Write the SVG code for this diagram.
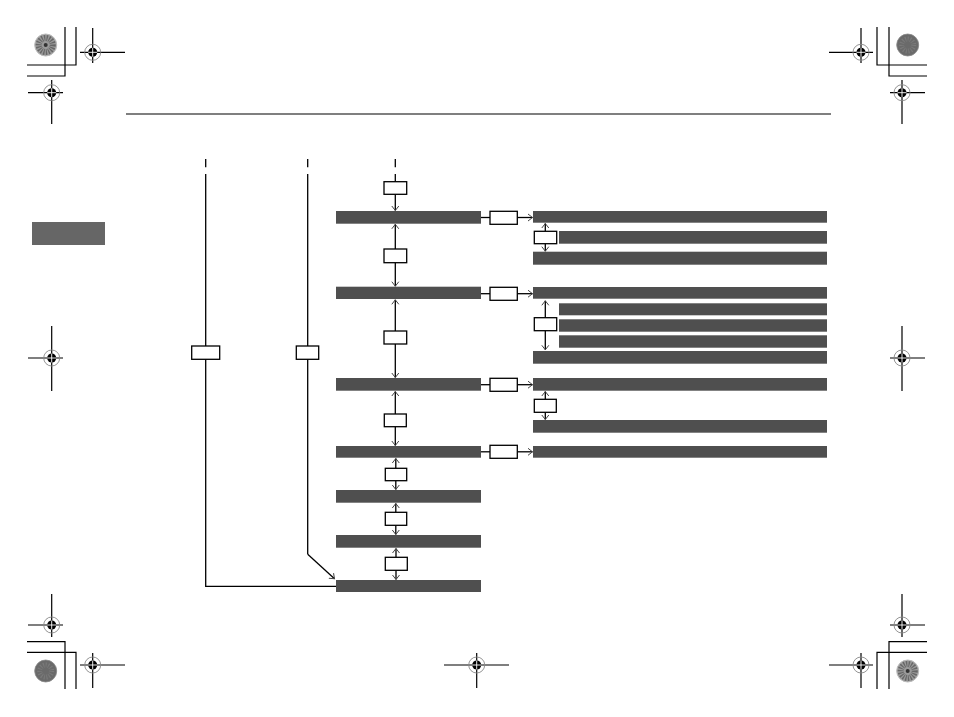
<svg xmlns="http://www.w3.org/2000/svg" width="954" height="717" viewBox="0 0 954 717">
<style>
.ln{stroke:#000;stroke-width:1.3;fill:none}
.thin{stroke:#000;stroke-width:1.2;fill:none}
.bar{fill:#4f4f4f}
.box{fill:#fff;stroke:#000;stroke-width:1.3}
.arr{stroke:#000;stroke-width:1.3;fill:none;marker-end:url(#ah)}
.ring{fill:none;stroke:#888;stroke-width:0.9}
.dot{fill:#000}
.wx{stroke:#fff;stroke-width:0.9}
</style>
<defs>
<marker id="ah" markerUnits="userSpaceOnUse" markerWidth="8" markerHeight="9" refX="5" refY="4.5" orient="auto" viewBox="0 0 8 9">
<path d="M0.5,1 L5,4.5 L0.5,8" fill="none" stroke="#444" stroke-width="1"/>
</marker>
<g id="reg">
<circle class="ring" cx="0" cy="0" r="8"/>
<circle class="dot" cx="0" cy="0" r="4.5"/>
<line class="wx" x1="-4.5" y1="0" x2="4.5" y2="0"/>
<line class="wx" x1="0" y1="-4.5" x2="0" y2="4.5"/>
</g>
<g id="spiky">
<circle cx="0" cy="0" r="11" fill="#9a9a9a" stroke="#bbb" stroke-width="1"/>
<circle cx="0" cy="0" r="7" fill="none" stroke="#666" stroke-width="6" stroke-dasharray="1.2 1.2"/>
<circle cx="0" cy="0" r="2" fill="#333"/>
</g>
<g id="dark">
<circle cx="0" cy="0" r="11" fill="#6a6a6a" stroke="#888" stroke-width="0.8"/>
<circle cx="0" cy="0" r="6" fill="none" stroke="#7a7a7a" stroke-width="5" stroke-dasharray="1 1.5"/>
</g>
</defs>

<g id="print-marks">
<!-- corners -->
<path class="thin" d="M65,27 V76 H27 M76,27 V65 H27"/>
<path class="thin" d="M889,27 V76 H927 M877,27 V65 H927"/>
<path class="thin" d="M65,689 V641.7 H27 M76,689 V652.3 H27"/>
<path class="thin" d="M889,689 V641.7 H927 M877,689 V652.3 H927"/>
<use href="#spiky" x="45.7" y="45"/>
<use href="#dark" x="907.7" y="45"/>
<use href="#dark" x="45.7" y="671"/>
<use href="#spiky" x="907.7" y="671"/>
<!-- reg crosshairs -->
<path class="thin" d="M80,52.3 H125 M92.7,28 V63"/>
<use href="#reg" x="92.7" y="52.3"/>
<path class="thin" d="M28,92.7 H63 M51.7,80 V124"/>
<use href="#reg" x="51.7" y="92.7"/>
<path class="thin" d="M829,52.3 H873 M861,28 V63"/>
<use href="#reg" x="861" y="52.3"/>
<path class="thin" d="M890,92.7 H925 M902,80 V124"/>
<use href="#reg" x="902" y="92.7"/>
<path class="thin" d="M28,358 H63 M51.7,326 V391"/>
<use href="#reg" x="51.7" y="358"/>
<path class="thin" d="M890,358 H925 M902,326 V391"/>
<use href="#reg" x="902" y="358"/>
<path class="thin" d="M28,625 H63 M51.7,594 V637"/>
<use href="#reg" x="51.7" y="625"/>
<path class="thin" d="M80,665 H125 M92.7,653 V688"/>
<use href="#reg" x="92.7" y="665"/>
<path class="thin" d="M444,665 H509 M476.7,653 V688"/>
<use href="#reg" x="476.7" y="665"/>
<path class="thin" d="M829,665 H873 M861,653 V688"/>
<use href="#reg" x="861" y="665"/>
<path class="thin" d="M890,625 H925 M902,594 V637"/>
<use href="#reg" x="902" y="625"/>
</g>

<g id="header">
<line x1="126" y1="114" x2="831" y2="114" stroke="#000" stroke-width="1.2"/>
<rect id="tab" x="32" y="222" width="73" height="23" fill="#666"/>
</g>

<g id="connectors">
<!-- ticks -->
<path class="ln" d="M205.7,159 V167.3 M307.7,159 V167.3 M395.3,159 V167.3"/>
<!-- left long lines -->
<path class="ln" d="M205.7,174 V346 M205.7,359.3 V586.3 H336"/>
<path class="ln" d="M307.7,174 V346 M307.7,359.3 V554.3"/>
<path class="arr" d="M307.7,554.3 L334.5,578.8"/>
<!-- center column -->
<path class="ln" d="M395.3,174 V181.7"/>
<path class="arr" d="M395.3,194.3 V210.5"/>
<path class="arr" d="M395.3,249 V224.3"/>
<path class="arr" d="M395.3,262.7 V286.2"/>
<path class="arr" d="M395.3,331 V299.8"/>
<path class="arr" d="M395.3,344 V377.5"/>
<path class="arr" d="M395.3,414 V391.5"/>
<path class="arr" d="M395.3,426.7 V445.5"/>
<path class="arr" d="M395.8,468.3 V458.5"/>
<path class="arr" d="M395.8,480.7 V489.5"/>
<path class="arr" d="M395.8,512.3 V503.5"/>
<path class="arr" d="M395.8,525.3 V534.5"/>
<path class="arr" d="M396,557.3 V548.5"/>
<path class="arr" d="M396,570.3 V579.5"/>
<!-- right links -->
<path class="ln" d="M481,217.5 H490"/>
<path class="arr" d="M517.3,217.5 H532.5"/>
<path class="ln" d="M481,293.7 H490"/>
<path class="arr" d="M517.3,293.7 H532.5"/>
<path class="ln" d="M481,384.7 H490"/>
<path class="arr" d="M517.3,384.7 H532.5"/>
<path class="ln" d="M481,451.8 H490"/>
<path class="arr" d="M517.3,451.8 H532.5"/>
<!-- sub arrows -->
<path class="arr" d="M545.3,231.3 V223.5"/>
<path class="arr" d="M545.3,243.7 V251.2"/>
<path class="arr" d="M545.3,317.7 V300.8"/>
<path class="arr" d="M545.3,330.7 V349.8"/>
<path class="arr" d="M545.3,399.3 V391.5"/>
<path class="arr" d="M545.3,412.3 V419.5"/>
</g>

<g id="boxes">
<rect class="box" x="384" y="181.7" width="22.7" height="12.6"/>
<rect class="box" x="384" y="249" width="22.7" height="13.7"/>
<rect class="box" x="384" y="331" width="22.7" height="13"/>
<rect class="box" x="384.3" y="414" width="22" height="12.7"/>
<rect class="box" x="385.3" y="468.3" width="21.4" height="12.4"/>
<rect class="box" x="385.3" y="512.3" width="21.4" height="13"/>
<rect class="box" x="385.3" y="557.3" width="22" height="13"/>
<rect class="box" x="191.7" y="346" width="28" height="13.3"/>
<rect class="box" x="296.3" y="346" width="22.4" height="13.3"/>
<rect class="box" x="490" y="211.3" width="27.3" height="13"/>
<rect class="box" x="490" y="287.3" width="27.3" height="13"/>
<rect class="box" x="490" y="378.3" width="27.3" height="13"/>
<rect class="box" x="490" y="445.3" width="27.3" height="13"/>
<rect class="box" x="534.3" y="231.3" width="22.4" height="12.4"/>
<rect class="box" x="534.3" y="317.7" width="22.4" height="13"/>
<rect class="box" x="534.3" y="399.3" width="22" height="13"/>
</g>

<g id="main-bars">
<rect id="m1" class="bar" x="336" y="211" width="145" height="12.7"/>
<rect id="m2" class="bar" x="336" y="286.7" width="145" height="12.3"/>
<rect id="m3" class="bar" x="336" y="378" width="145" height="12.7"/>
<rect id="m4" class="bar" x="336" y="446" width="145" height="11.7"/>
<rect id="m5" class="bar" x="336" y="490" width="145" height="12.7"/>
<rect id="m6" class="bar" x="336" y="535" width="145" height="12.7"/>
<rect id="m7" class="bar" x="336" y="580" width="145" height="12"/>
</g>

<g id="right-bars">
<rect id="a1" class="bar" x="533" y="211" width="294" height="11.7"/>
<rect id="a2" class="bar" x="559" y="231" width="268" height="12.7"/>
<rect id="a3" class="bar" x="533" y="251.7" width="294" height="13"/>
<rect id="b1" class="bar" x="533" y="287" width="294" height="11.7"/>
<rect id="b2" class="bar" x="559" y="303.3" width="268" height="12"/>
<rect id="b3" class="bar" x="559" y="319.3" width="268" height="12.4"/>
<rect id="b4" class="bar" x="559" y="335.3" width="268" height="12.4"/>
<rect id="b5" class="bar" x="533" y="351" width="294" height="12.7"/>
<rect id="c1" class="bar" x="533" y="378" width="294" height="12.7"/>
<rect id="c2" class="bar" x="533" y="420" width="294" height="12.7"/>
<rect id="d1" class="bar" x="533" y="446" width="294" height="11.7"/>
</g>
</svg>
